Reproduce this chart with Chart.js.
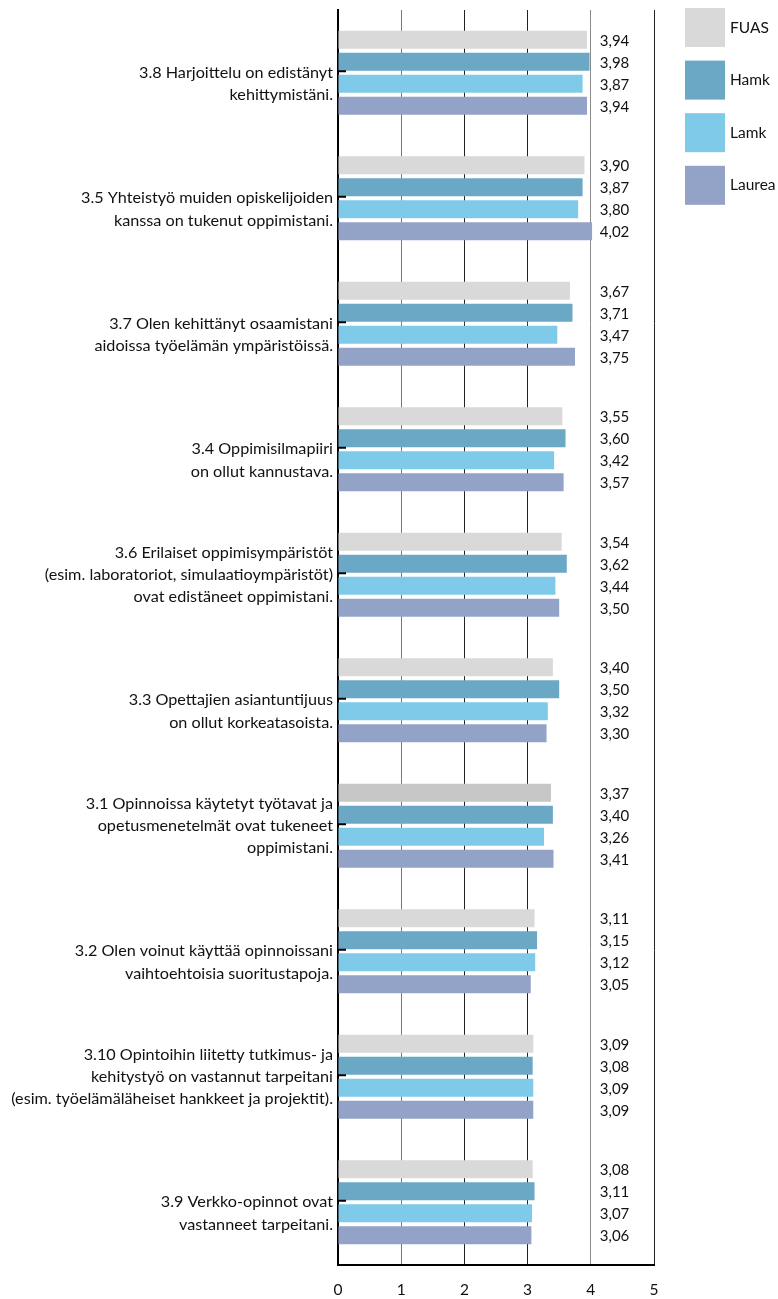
<!DOCTYPE html>
<html>
<head>
<meta charset="utf-8">
<script src="https://cdn.jsdelivr.net/npm/chart.js@4/dist/chart.umd.min.js"></script>
<style>
  html, body { margin: 0; padding: 0; background: #fff; }
  #wrap { width: 778px; height: 1299px; }
</style>
</head>
<body>
<div id="wrap"><canvas id="chart"></canvas></div>
<script>
// survey answers, scale 0-5

const categories = [
  ["", "3.8 Harjoittelu on edistänyt", "kehittymistäni."],
  ["", "3.5 Yhteistyö muiden opiskelijoiden", "kanssa on tukenut oppimistani."],
  ["", "3.7 Olen kehittänyt osaamistani", "aidoissa työelämän ympäristöissä."],
  ["", "3.4 Oppimisilmapiiri", "on ollut kannustava."],
  ["3.6 Erilaiset oppimisympäristöt", "(esim. laboratoriot, simulaatioympäristöt)", "ovat edistäneet oppimistani."],
  ["", "3.3 Opettajien asiantuntijuus", "on ollut korkeatasoista."],
  ["3.1 Opinnoissa käytetyt työtavat ja", "opetusmenetelmät ovat tukeneet", "oppimistani."],
  ["", "3.2 Olen voinut käyttää opinnoissani", "vaihtoehtoisia suoritustapoja."],
  ["3.10 Opintoihin liitetty tutkimus- ja", "kehitystyö on vastannut tarpeitani", "(esim. työelämäläheiset hankkeet ja projektit)."],
  ["", "3.9 Verkko-opinnot ovat", "vastanneet tarpeitani."]
];

const seriesNames = ["FUAS", "Hamk", "Lamk", "Laurea"];

const fuas   = [3.94, 3.90, 3.67, 3.55, 3.54, 3.40, 3.37, 3.11, 3.09, 3.08];
const hamk   = [3.98, 3.87, 3.71, 3.60, 3.62, 3.50, 3.40, 3.15, 3.08, 3.11];
const lamk   = [3.87, 3.80, 3.47, 3.42, 3.44, 3.32, 3.26, 3.12, 3.09, 3.07];
const laurea = [3.94, 4.02, 3.75, 3.57, 3.50, 3.30, 3.41, 3.05, 3.09, 3.06];

const xTicks = [0, 1, 2, 3, 4, 5];

const FONT = "Lato, 'Open Sans', sans-serif";
const gridColors = ["#000", "#777", "#222", "#222", "#8a8a8a", "#222"];

// one FUAS bar is a bit darker in the original
const fuasColors = fuas.map((v, i) => (i === 6 ? "#c7c7c7" : "#d9d9d9"));

const extras = {
  id: "extras",
  afterDatasetsDraw(chart) {
    const ctx = chart.ctx;
    const x = chart.scales.x;
    const area = chart.chartArea;
    ctx.save();

    // small ticks on the y axis
    ctx.strokeStyle = "#000";
    ctx.lineWidth = 2;
    chart.scales.y.ticks.forEach((t, i) => {
      const yy = chart.scales.y.getPixelForTick(i) - 1.5;
      ctx.beginPath();
      ctx.moveTo(area.left, yy);
      ctx.lineTo(area.left + 8, yy);
      ctx.stroke();
    });

    // value column
    ctx.fillStyle = "#111";
    ctx.font = "15px " + FONT;
    ctx.textAlign = "left";
    ctx.textBaseline = "middle";
    const vx = x.getPixelForValue(4) + 9;
    chart.data.datasets.forEach((ds, di) => {
      chart.getDatasetMeta(di).data.forEach((bar, i) => {
        ctx.fillText(ds.data[i].toFixed(2).replace(".", ","), vx, bar.y + 1);
      });
    });

    // legend
    const lx = area.right + 31;
    ctx.font = "15.5px " + FONT;
    chart.data.datasets.forEach((ds, di) => {
      const ly = 8 + di * 52.6;
      ctx.fillStyle = di === 0 ? "#d9d9d9" : ds.backgroundColor;
      ctx.fillRect(lx, ly, 40, 39);
      ctx.fillStyle = "#111";
      ctx.fillText(ds.label, lx + 45, ly + 19.5);
    });
    ctx.restore();
  }
};

const data = {
  labels: categories,
  datasets: [
    { label: seriesNames[0], data: fuas, backgroundColor: fuasColors },
    { label: seriesNames[1], data: hamk, backgroundColor: "#6aa8c6" },
    { label: seriesNames[2], data: lamk, backgroundColor: "#7fcae9" },
    { label: seriesNames[3], data: laurea, backgroundColor: "#93a3c7" }
  ]
};

const config = {
  type: "bar",
  data: data,
  options: {
    indexAxis: "y",
    responsive: true,
    maintainAspectRatio: false,
    animation: false,
    categoryPercentage: 0.701,
    barPercentage: 0.82,
    layout: {
      autoPadding: false,
      padding: { top: 10, right: 124, bottom: 0, left: 0 }
    },
    plugins: {
      legend: { display: false },
      tooltip: { enabled: false }
    },
    scales: {
      x: {
        min: 0,
        max: 5,
        afterBuildTicks: (scale) => {
          scale.ticks = xTicks.map((v) => ({ value: v }));
        },
        afterFit: (scale) => {
          scale.height = 34;
          scale.paddingLeft = 0;
          scale.paddingRight = 0;
        },
        grid: {
          color: (c) => gridColors[c.index] || "#222",
          lineWidth: 1,
          drawTicks: false
        },
        border: { display: true, color: "#000", width: 2 },
        ticks: {
          color: "#111",
          padding: 16,
          font: { family: FONT, size: 15.5 }
        }
      },
      y: {
        afterFit: (scale) => {
          scale.width = 338;
          scale.paddingTop = 0;
          scale.paddingBottom = 0;
        },
        grid: { display: false, drawTicks: false },
        border: { display: true, color: "#000", width: 2 },
        ticks: {
          color: "#111",
          padding: 5,
          font: { family: FONT, size: 16.2, lineHeight: 1.36 }
        }
      }
    }
  },
  plugins: [extras]
};

new Chart(document.getElementById("chart").getContext("2d"), config);
</script>
</body>
</html>
